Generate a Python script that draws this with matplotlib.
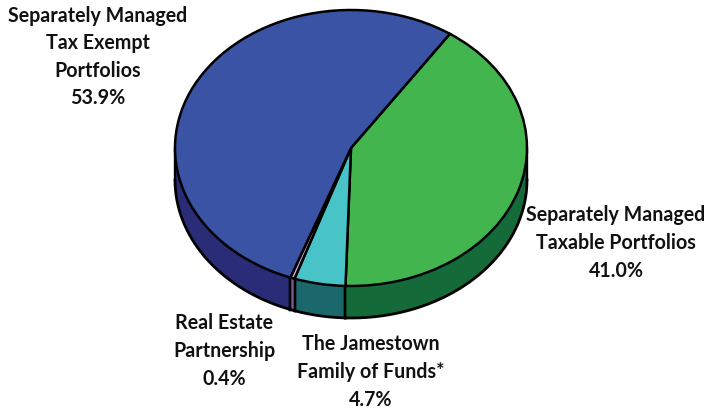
import numpy as np
import matplotlib
matplotlib.use("Agg")
import matplotlib.pyplot as plt

labels = ["Separately Managed\nTaxable Portfolios\n41.0%",
          "The Jamestown\nFamily of Funds*\n4.7%",
          "Real Estate\nPartnership\n0.4%",
          "Separately Managed\nTax Exempt\nPortfolios\n53.9%"]
values = [41.0, 4.7, 0.4, 53.9]
top_colors = ["#43B54E", "#48C4C8", "#C9A6D8", "#3A53A4"]
side_colors = ["#156A3A", "#1B686C", "#7A5A94", "#2A2C78"]
label_px = [(616, 243), (371, 372), (224, 351), (98, 57)]

W, H = 708, 408
CX, CY, RX, RY, DEPTH = 351, 148, 176, 138, 32
START = 55.8

fig = plt.figure(figsize=(W/100, H/100), dpi=100)
ax = fig.add_axes([0, 0, 1, 1])
depth = DEPTH / RY

# side wall
angle = START
for v, sc in zip(values, side_colors):
    a0, a1 = angle - v*3.6, angle
    angle = a0
    lo, hi = max(a0, -180), min(a1, 0)
    if hi <= lo:
        continue
    t = np.radians(np.linspace(lo, hi, 200))
    ax.fill_between(np.cos(t), np.sin(t), np.sin(t) - depth, color=sc, lw=0, zorder=1)
    for e in (lo, hi):
        x = np.cos(np.radians(e))
        y = np.sin(np.radians(e))
        ax.plot([x, x], [y, y-depth], color="black", lw=1.7, zorder=2)
    ax.plot(np.cos(t), np.sin(t)-depth, color="black", lw=2.0, zorder=3)

wedges, _ = ax.pie(values, colors=top_colors, startangle=START, counterclock=False,
                   radius=1, center=(0, 0),
                   wedgeprops=dict(edgecolor="black", linewidth=1.8, zorder=4))
ax.set_aspect("auto")
ax.set_xlim((0-CX)/RX, (W-CX)/RX)
ax.set_ylim((CY-H)/RY, CY/RY)
ax.axis("off")

for s, (px, py) in zip(labels, label_px):
    fig.text(px/W, 1-py/H, s, ha="center", va="center", family="Lato", weight="bold",
             fontsize=14.1, color="#111111", linespacing=1.47)

fig.savefig("out.png", dpi=100)
